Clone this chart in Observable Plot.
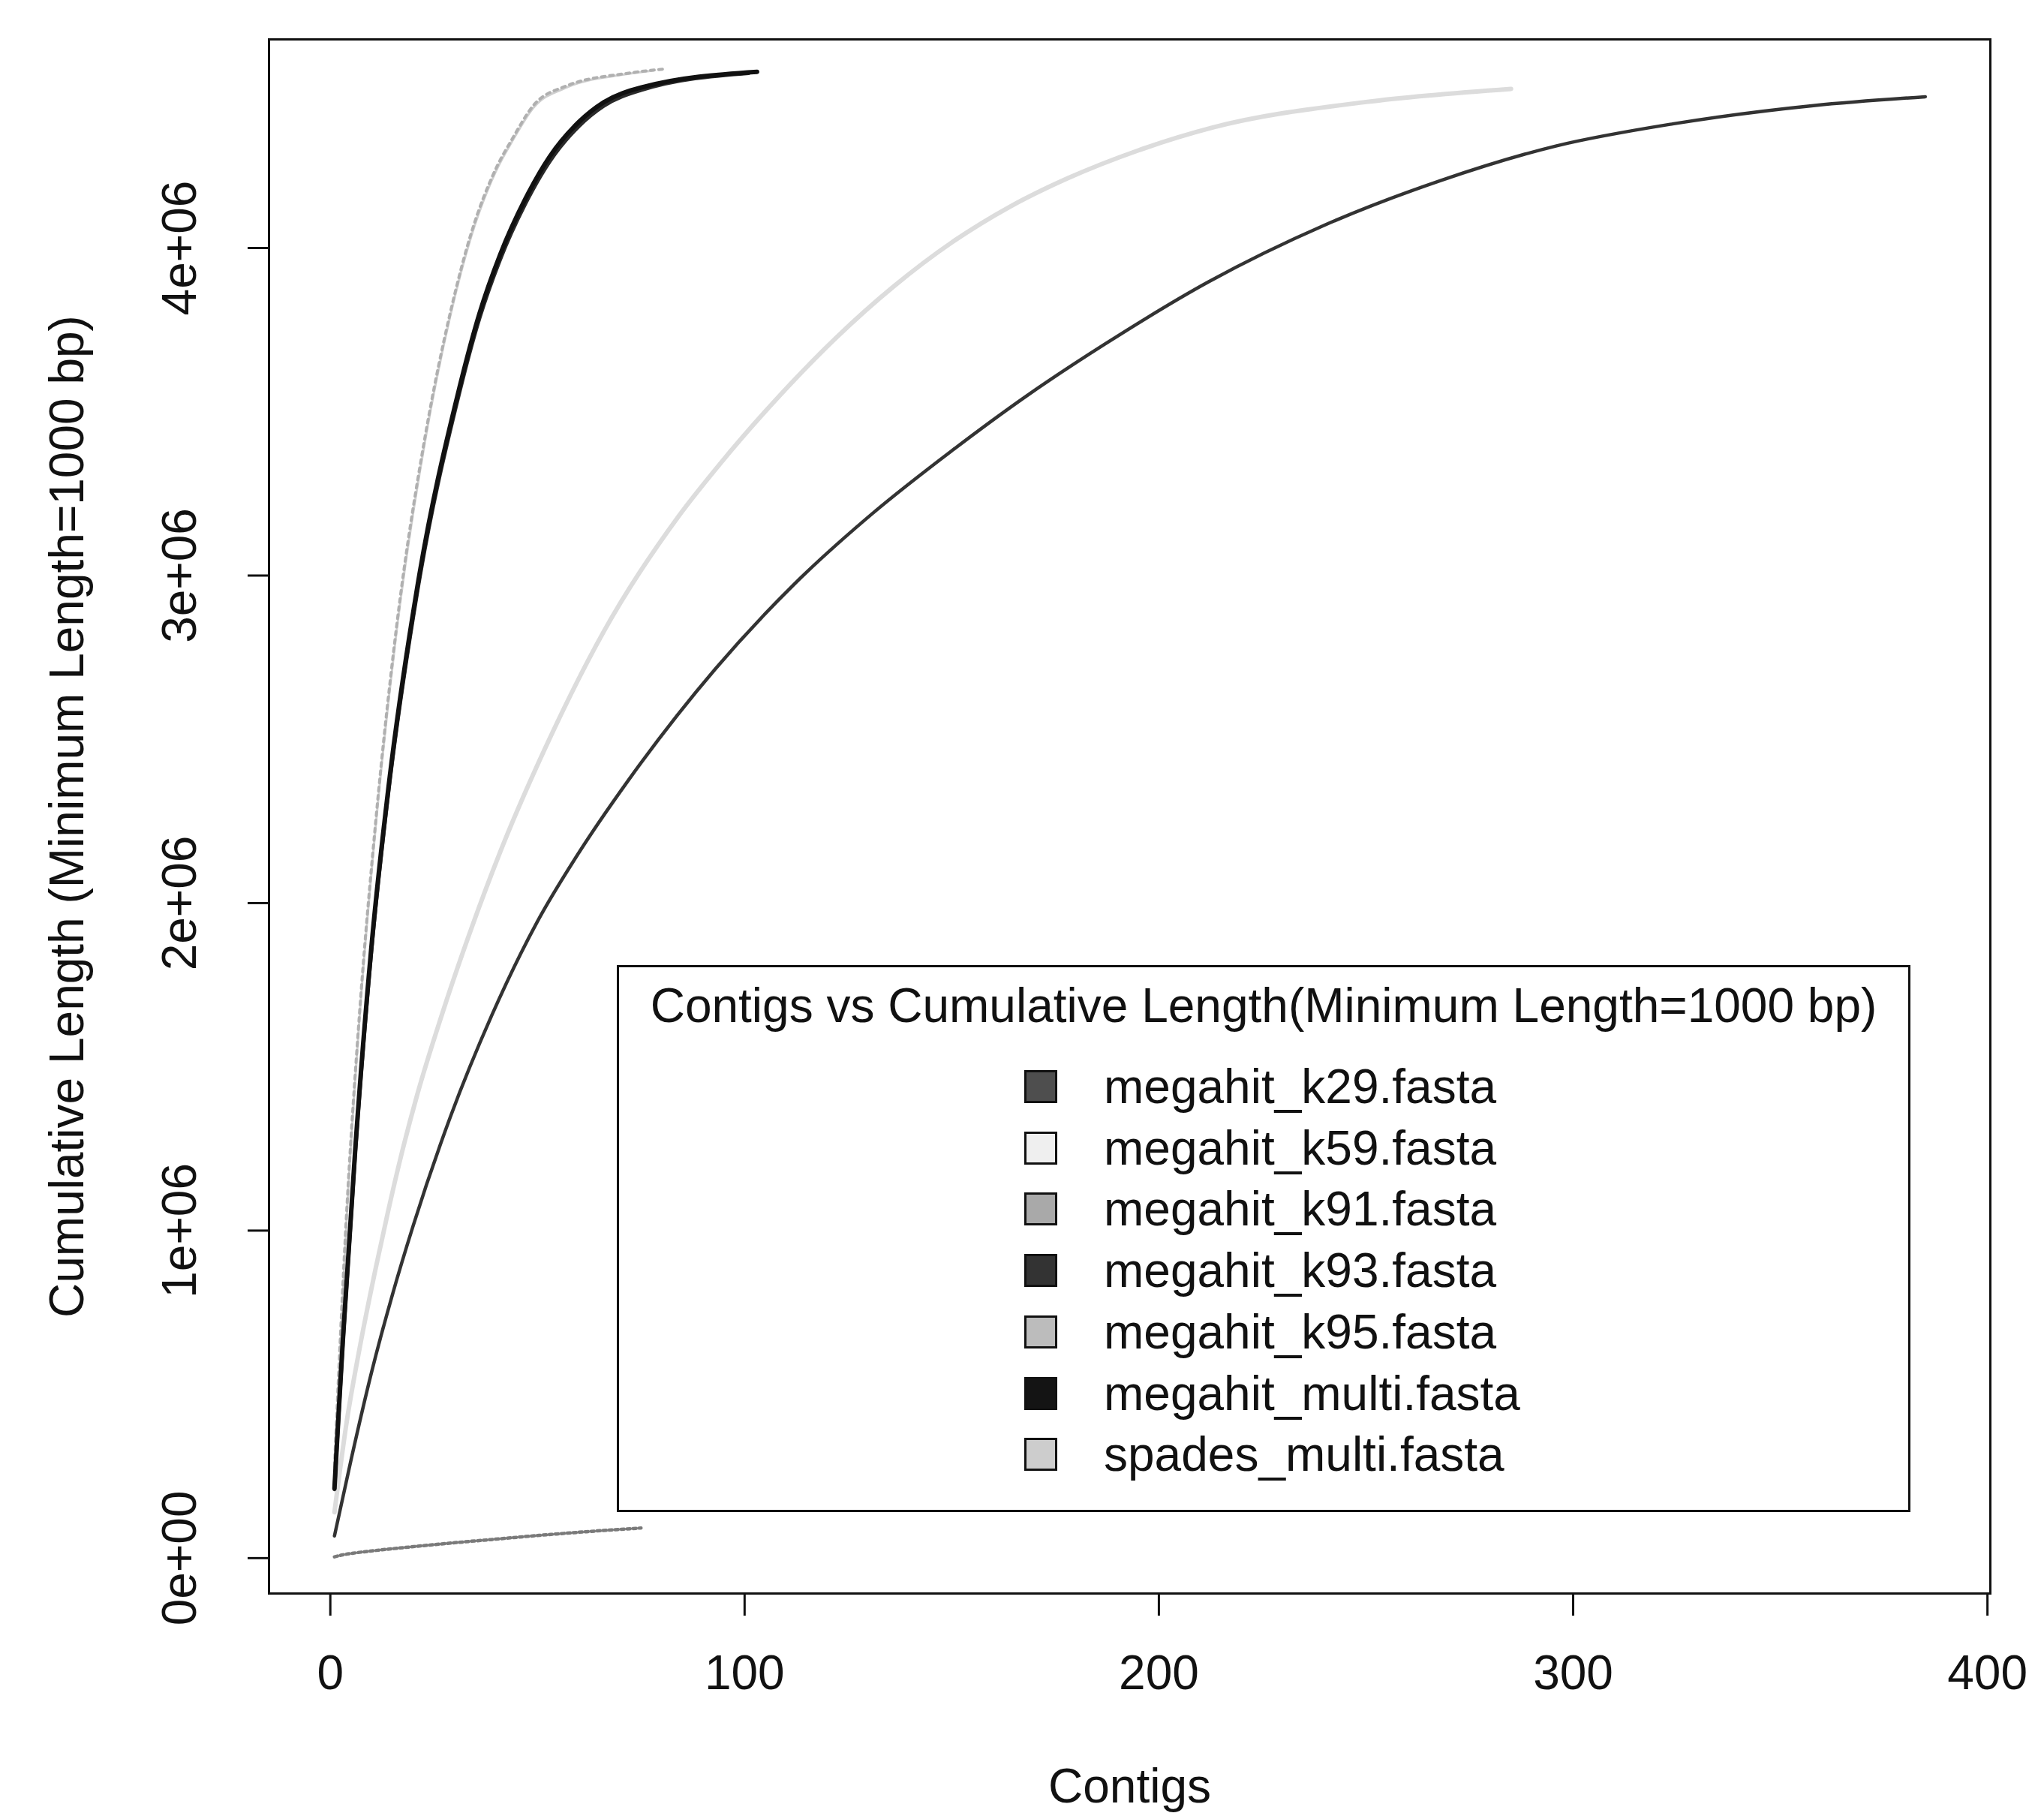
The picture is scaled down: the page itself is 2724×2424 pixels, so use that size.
<!DOCTYPE html>
<html>
<head>
<meta charset="utf-8">
<script src="https://cdn.jsdelivr.net/npm/d3@7"></script>
<script src="https://cdn.jsdelivr.net/npm/@observablehq/plot@0.6"></script>
<style>
  html, body { margin: 0; padding: 0; background: #ffffff; }
  #wrap { position: relative; width: 2724px; height: 2424px; background: #ffffff;
          font-family: "Liberation Sans", Arial, sans-serif; color: #111; }
  #legend { position: absolute; left: 822px; top: 1286px; width: 1724px; height: 729px;
            box-sizing: border-box; border: 3px solid #111; background: #fff; }
  #legend .title { position: absolute; left: 0; right: 0; top: 51px; transform: translateY(-50%);
                   text-align: center; font-size: 64px; line-height: 1; white-space: nowrap; }
  #legend .item { position: absolute; left: 0; height: 64px; transform: translateY(-50%); }
  #legend .sw { position: absolute; left: 540px; top: 10px; width: 44px; height: 44px;
                box-sizing: border-box; border: 3px solid #111; }
  #legend .lab { position: absolute; left: 646px; top: 0; font-size: 64px; line-height: 64px; white-space: nowrap; }
</style>
</head>
<body>
<div id="wrap"></div>
<script>
// ---------------- data ----------------
const seriesNames = ["megahit_k29.fasta", "megahit_k59.fasta", "megahit_k91.fasta",
  "megahit_k93.fasta", "megahit_k95.fasta", "megahit_multi.fasta", "spades_multi.fasta"];

// contig index (x) and cumulative length in bp (y)
const k29Contigs = [1, 5, 10, 15, 20, 29, 39, 50, 60, 72, 93, 112, 131, 150, 168, 187, 212, 240, 268, 296, 324, 358, 385];
const k29Length  = [68000, 300000, 570000, 805000, 1015000, 1348000, 1658000, 1944000, 2154000, 2376000, 2716000, 2974000, 3191000, 3381000, 3548000, 3707000, 3897000, 4070000, 4206000, 4312000, 4379000, 4435000, 4462000];

const k59Contigs = [1, 4, 7, 11, 14, 17, 21, 27, 34, 41, 53, 66, 84, 94, 108, 122, 136, 150, 164, 178, 195, 213, 250, 285];
const k59Length  = [140000, 420000, 636000, 888000, 1062000, 1224000, 1416000, 1662000, 1921000, 2156000, 2504000, 2829000, 3180000, 3340000, 3543000, 3725000, 3883000, 4017000, 4126000, 4213000, 4298000, 4368000, 4446000, 4486000];

const k91Contigs = [1, 3, 6, 10, 20, 30, 40, 50, 60, 75];
const k91Length  = [4000, 10000, 16000, 22000, 35000, 47000, 58000, 69000, 79000, 92000];

const k93Contigs = [1, 2, 3, 6, 10, 14, 21, 31, 36, 41, 47, 53, 60, 66, 75, 101];
const k93Length  = [210000, 435000, 652000, 1235000, 1865000, 2335000, 2950000, 3550000, 3785000, 3965000, 4133000, 4265000, 4372000, 4434000, 4482000, 4534000];

const k95Contigs = [1, 4, 7, 11, 16, 23, 29, 34, 40, 44, 49, 57, 72, 81];
const k95Length  = [280000, 1070000, 1655000, 2255000, 2845000, 3433000, 3805000, 4045000, 4243000, 4335000, 4435000, 4495000, 4534000, 4547000];

const multiContigs = [1, 2, 3, 6, 10, 14, 21, 31, 36, 41, 47, 53, 60, 66, 75, 103];
const multiLength  = [213000, 440000, 660000, 1245000, 1877000, 2349000, 2965000, 3565000, 3800000, 3980000, 4148000, 4280000, 4385000, 4445000, 4490000, 4538000];

const spadesContigs = [1, 4, 7, 11, 16, 23, 29, 34, 40, 44, 49, 57, 70, 78];
const spadesLength  = [270000, 1050000, 1640000, 2240000, 2830000, 3420000, 3795000, 4035000, 4235000, 4328000, 4428000, 4490000, 4528000, 4542000];

const xTicks = [0, 100, 200, 300, 400];
const yTicks = [0, 1000000, 2000000, 3000000, 4000000];
const yTickLabels = ["0e+00", "1e+06", "2e+06", "3e+06", "4e+06"];

const xTitle = "Contigs";
const yTitle = "Cumulative Length (Minimum Length=1000 bp)";
const legendTitle = "Contigs vs Cumulative Length(Minimum Length=1000 bp)";

// ---------------- styles ----------------
const legendFill = ["#4e4e4e", "#efefef", "#a9a9a9", "#333333", "#bcbcbc", "#141414", "#cdcdcd"];
const lineStroke = ["#333333", "#dcdcdc", "#7a7a7a", "#2a2a2a", "#b0b0b0", "#111111", "#cfcfcf"];
const lineWidth  = [4.5, 6, 4.5, 5, 4, 6, 3];
const lineDash   = [null, null, "4,4", null, "5,6", null, null];
const drawOrder  = [1, 6, 4, 2, 0, 3, 5];

// ---------------- table ----------------
const seriesX = [k29Contigs, k59Contigs, k91Contigs, k93Contigs, k95Contigs, multiContigs, spadesContigs];
const seriesY = [k29Length, k59Length, k91Length, k93Length, k95Length, multiLength, spadesLength];
const rows = [];
seriesNames.forEach((name, s) => {
  seriesX[s].forEach((c, i) => rows.push({series: name, contig: c, length: seriesY[s][i]}));
});

const font = "'Liberation Sans', Arial, sans-serif";

const lineMarks = drawOrder.map(s => Plot.line(rows.filter(r => r.series === seriesNames[s]), {
  x: "contig", y: "length", stroke: lineStroke[s], strokeWidth: lineWidth[s],
  strokeDasharray: lineDash[s] || undefined, curve: "monotone-x", strokeLinecap: "round"
}));

const chart = Plot.plot({
  width: 2724,
  height: 2424,
  marginLeft: 358,
  marginRight: 72,
  marginTop: 52,
  marginBottom: 301,
  x: {domain: [-14.8, 400.7]},
  y: {domain: [-108000, 4637000]},
  style: {fontFamily: font, fontSize: "64px", background: "#ffffff", color: "#111"},
  marks: [
    ...lineMarks,
    Plot.frame({stroke: "#111", strokeWidth: 3}),
    Plot.axisX({ticks: xTicks, tickSize: 30, tickPadding: 52, tickFormat: d => String(d),
                label: null, fontSize: 64, strokeWidth: 3}),
    Plot.axisY({ticks: yTicks, tickSize: 28, tickFormat: () => "", label: null, strokeWidth: 3}),
    Plot.text(yTicks, {y: d => d, text: (d, i) => yTickLabels[i], frameAnchor: "left", dx: -118,
                       rotate: -90, textAnchor: "middle", lineAnchor: "middle", fontSize: 64, fill: "#111"}),
    Plot.text([xTitle], {frameAnchor: "bottom", dy: 258, lineAnchor: "middle", textAnchor: "middle",
                         fontSize: 64, fill: "#111"}),
    Plot.text([yTitle], {frameAnchor: "left", dx: -268, rotate: -90, lineAnchor: "middle",
                         textAnchor: "middle", fontSize: 64, fill: "#111"})
  ]
});

const wrap = document.getElementById("wrap");
wrap.appendChild(chart);

// legend overlay
const legend = document.createElement("div");
legend.id = "legend";
const t = document.createElement("div");
t.className = "title";
t.textContent = legendTitle;
legend.appendChild(t);
seriesNames.forEach((name, i) => {
  const item = document.createElement("div");
  item.className = "item";
  item.style.top = (159 + i * 81.7) + "px";
  const sw = document.createElement("div");
  sw.className = "sw";
  sw.style.background = legendFill[i];
  const lab = document.createElement("div");
  lab.className = "lab";
  lab.textContent = name;
  item.appendChild(sw);
  item.appendChild(lab);
  legend.appendChild(item);
});
wrap.appendChild(legend);
</script>
</body>
</html>
